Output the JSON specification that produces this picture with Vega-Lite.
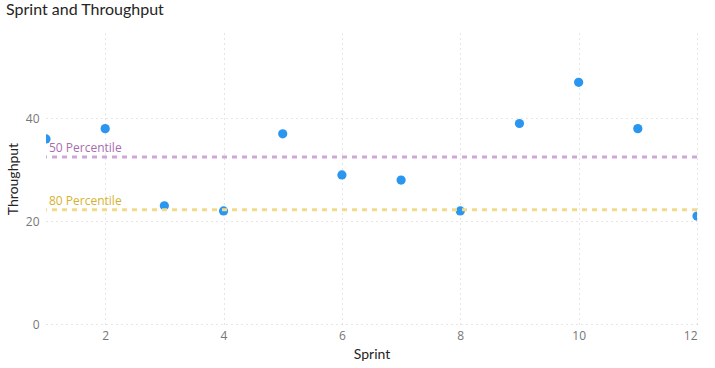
{
  "$schema": "https://vega.github.io/schema/vega-lite/v6.json",
  "autosize": "none",
  "width": 651,
  "height": 291,
  "padding": {"left": 46, "top": 33, "right": 18, "bottom": 44},
  "background": "white",
  "title": {"text": "Sprint and Throughput", "anchor": "start", "frame": "group", "dx": -40, "offset": 15, "fontSize": 16, "font": "Lato", "fontWeight": "normal", "color": "#252423"},
  "config": {
    "view": {"stroke": null},
    "axis": {"labelFont": "Open Sans", "titleFont": "Lato", "labelColor": "#777777", "titleColor": "#252423", "labelFontSize": 12, "titleFontSize": 14, "titleFontWeight": "normal", "domain": false, "ticks": false, "gridColor": "#CCCCCC", "gridDash": [1, 4], "gridWidth": 1}
  },
  "layer": [
    {
      "data": {"values": [
        {"Sprint": 1, "Throughput": 36}, {"Sprint": 2, "Throughput": 38}, {"Sprint": 3, "Throughput": 23},
        {"Sprint": 4, "Throughput": 22}, {"Sprint": 5, "Throughput": 37}, {"Sprint": 6, "Throughput": 29},
        {"Sprint": 7, "Throughput": 28}, {"Sprint": 8, "Throughput": 22}, {"Sprint": 9, "Throughput": 39},
        {"Sprint": 10, "Throughput": 47}, {"Sprint": 11, "Throughput": 38}, {"Sprint": 12, "Throughput": 21}
      ]},
      "mark": {"type": "point", "filled": true, "opacity": 1, "size": 85, "color": "#2B96F0", "clip": true},
      "encoding": {
        "x": {"field": "Sprint", "type": "quantitative", "scale": {"domain": [1, 12], "nice": false, "zero": false}, "axis": {"values": [2, 4, 6, 8, 10, 12], "format": "d", "labelPadding": 6, "titlePadding": 6, "title": "Sprint"}},
        "y": {"field": "Throughput", "type": "quantitative", "scale": {"domain": [0, 56.6], "nice": false}, "axis": {"values": [0, 20, 40], "format": "d", "labelPadding": 7, "titlePadding": 5, "title": "Throughput"}}
      }
    },
    {
      "data": {"values": [
        {"label": "50 Percentile", "value": 32.5, "x0": 1},
        {"label": "80 Percentile", "value": 22.2, "x0": 1}
      ]},
      "layer": [
        {
          "mark": {"type": "rule", "strokeWidth": 3, "strokeDash": [5, 5]},
          "encoding": {
            "y": {"field": "value", "type": "quantitative"},
            "color": {"field": "label", "type": "nominal", "scale": {"domain": ["50 Percentile", "80 Percentile"], "range": ["#CFA8D8", "#F2DA8A"]}, "legend": null}
          }
        },
        {
          "mark": {"type": "text", "align": "left", "baseline": "alphabetic", "dx": 3, "dy": -5, "font": "Open Sans", "fontSize": 12},
          "encoding": {
            "x": {"field": "x0", "type": "quantitative"},
            "y": {"field": "value", "type": "quantitative"},
            "text": {"field": "label"},
            "color": {"field": "label", "type": "nominal", "scale": {"domain": ["50 Percentile", "80 Percentile"], "range": ["#A66DAF", "#D6B22E"]}, "legend": null}
          }
        }
      ],
      "resolve": {"scale": {"color": "independent"}}
    }
  ],
  "resolve": {"scale": {"color": "independent"}}
}
